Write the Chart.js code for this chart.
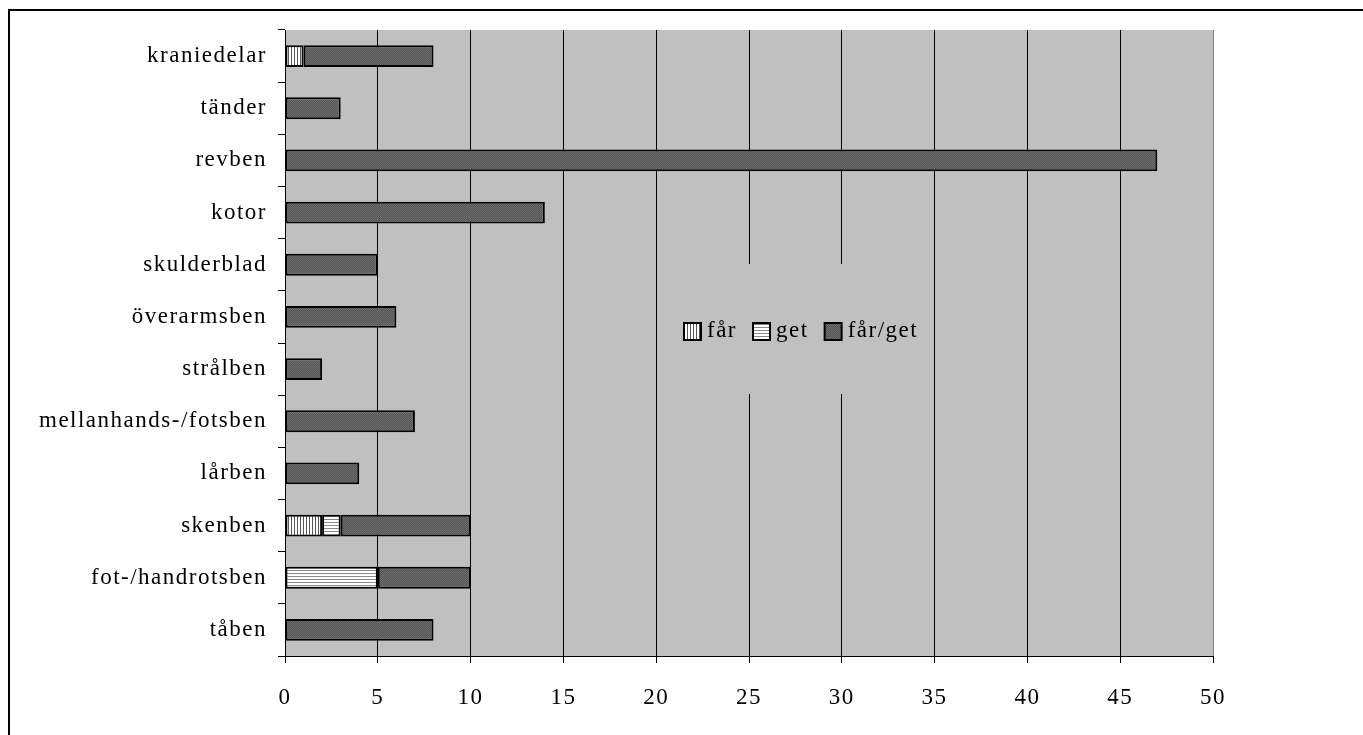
<!DOCTYPE html>
<html lang="sv">
<head>
    <meta charset="UTF-8">
    <title>Får och get</title>
    <script src="https://cdnjs.cloudflare.com/ajax/libs/Chart.js/4.4.0/chart.umd.min.js"></script>
    <style>
        html, body { margin: 0; padding: 0; background: #fff; overflow: hidden; }
        #frame {
            position: absolute; left: 8px; top: 9px;
            width: 3000px; height: 3000px;
            border-left: 2px solid #000; border-top: 2px solid #000;
        }
        #wrap { position: absolute; left: 0; top: 0; width: 1363px; height: 735px; }
    </style>
</head>
<body>
    <div id="frame"></div>
    <div id="wrap"><canvas id="graph"></canvas></div>

    <script>
        // data
        const categories = ['kraniedelar', 'tänder', 'revben', 'kotor', 'skulderblad', 'överarmsben',
            'strålben', 'mellanhands-/fotsben', 'lårben', 'skenben', 'fot-/handrotsben', 'tåben'];
        const farValues    = [1, null, null, null, null, null, null, null, null, 2, null, null];
        const getValues    = [null, null, null, null, null, null, null, null, null, 1, 5, null];
        const farGetValues = [7, 3, 47, 14, 5, 6, 2, 7, 4, 7, 5, 8];
        const xTicks = [0, 5, 10, 15, 20, 25, 30, 35, 40, 45, 50];

        const FONT = { family: '"Liberation Serif", "Times New Roman", serif', size: 23 };
        const SPACING = '1.5px';

        // fill patterns
        function makePattern(w, h, paint) {
            const c = document.createElement('canvas');
            c.width = w; c.height = h;
            const g = c.getContext('2d');
            paint(g);
            return g.createPattern(c, 'repeat');
        }
        const farFill = makePattern(3, 3, g => {
            g.fillStyle = '#fff'; g.fillRect(0, 0, 3, 3);
            g.fillStyle = '#555'; g.fillRect(0, 0, 1, 3);
        });
        const getFill = makePattern(3, 3, g => {
            g.fillStyle = '#fff'; g.fillRect(0, 0, 3, 3);
            g.fillStyle = '#888'; g.fillRect(0, 0, 3, 1);
        });
        const farGetFill = makePattern(2, 2, g => {
            g.fillStyle = '#545454'; g.fillRect(0, 0, 2, 2);
            g.fillStyle = '#6e6e6e'; g.fillRect(0, 0, 1, 1); g.fillRect(1, 1, 1, 1);
        });

        // bokstavsavstånd som i originalet
        const spacingPlugin = {
            id: 'spacing',
            beforeUpdate(chart) { chart.ctx.letterSpacing = SPACING; },
            beforeDraw(chart) { chart.ctx.letterSpacing = SPACING; }
        };

        // grå bakgrund i ritytan
        const plotBg = {
            id: 'plotBg',
            beforeDraw(chart) {
                const { ctx, chartArea: a } = chart;
                ctx.save();
                ctx.fillStyle = '#c0c0c0';
                ctx.fillRect(a.left, a.top, a.right - a.left, a.bottom - a.top);
                ctx.restore();
            }
        };

        // legend inne i diagrammet
        const innerLegend = {
            id: 'innerLegend',
            afterDatasetsDraw(chart) {
                const ctx = chart.ctx;
                const x = chart.scales.x;
                ctx.save();
                ctx.letterSpacing = SPACING;
                ctx.fillStyle = '#c0c0c0';
                ctx.fillRect(x.getPixelForValue(20.8), 264, x.getPixelForValue(34.8) - x.getPixelForValue(20.8), 130);
                ctx.font = FONT.size + 'px ' + FONT.family;
                ctx.textBaseline = 'middle';
                let px = 684;
                const cy = 331;
                chart.data.datasets.forEach(ds => {
                    ctx.fillStyle = ds.backgroundColor;
                    ctx.fillRect(px, cy - 8, 17, 17);
                    ctx.strokeStyle = '#000';
                    ctx.lineWidth = 2;
                    ctx.strokeRect(px, cy - 8, 17, 17);
                    ctx.fillStyle = '#000';
                    ctx.fillText(ds.label, px + 23, cy);
                    px += 23 + ctx.measureText(ds.label).width + 16;
                });
                ctx.restore();
            }
        };

        const ctx = document.getElementById('graph').getContext('2d');
        new Chart(ctx, {
            type: 'bar',
            data: {
                labels: categories,
                datasets: [
                    { label: 'får', data: farValues, backgroundColor: farFill },
                    { label: 'get', data: getValues, backgroundColor: getFill },
                    { label: 'får/get', data: farGetValues, backgroundColor: farGetFill }
                ]
            },
            options: {
                indexAxis: 'y',
                responsive: true,
                maintainAspectRatio: false,
                animation: false,
                datasets: {
                    bar: {
                        borderColor: '#000',
                        borderWidth: 2,
                        borderSkipped: false,
                        categoryPercentage: 1,
                        barPercentage: 0.42
                    }
                },
                layout: { padding: { top: 30, right: 150, left: 0, bottom: 0 } },
                plugins: {
                    legend: { display: false },
                    tooltip: { enabled: false }
                },
                scales: {
                    x: {
                        stacked: true,
                        min: 0,
                        max: 50,
                        afterBuildTicks(scale) { scale.ticks = xTicks.map(v => ({ value: v })); },
                        afterFit(scale) { scale.height = 79; },
                        ticks: { color: '#000', font: FONT, padding: 21, maxRotation: 0 },
                        grid: {
                            color: c => (c.tick && c.tick.value === 50) ? '#808080' : '#000',
                            tickColor: '#000',
                            tickLength: 7,
                            lineWidth: 1
                        },
                        border: { display: true, color: '#000', width: 1 }
                    },
                    y: {
                        stacked: true,
                        afterFit(scale) { scale.width = 285; },
                        ticks: { color: '#000', font: FONT, padding: 11 },
                        grid: {
                            drawOnChartArea: false,
                            offset: true,
                            tickColor: '#000',
                            tickLength: 7
                        },
                        border: { display: true, color: '#000', width: 1 }
                    }
                }
            },
            plugins: [spacingPlugin, plotBg, innerLegend]
        });
    </script>
</body>
</html>
